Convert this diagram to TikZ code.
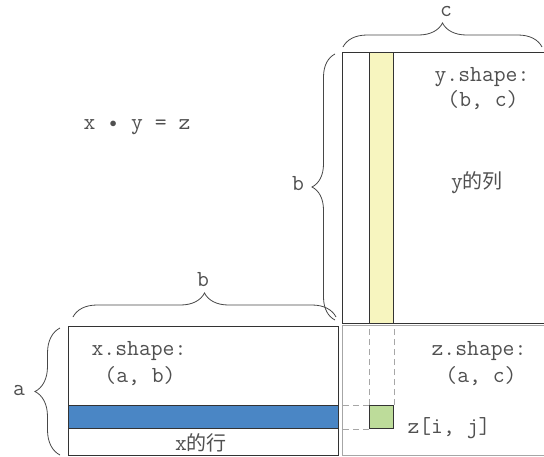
\documentclass[tikz,border=0pt]{standalone}
\usepackage{fontspec}
\newfontfamily\cjk{Noto Sans CJK SC}
\usetikzlibrary{decorations.pathreplacing}
\definecolor{txt}{HTML}{505050}
\definecolor{edge}{HTML}{333333}
\definecolor{bluefill}{HTML}{4A86C5}
\definecolor{yelfill}{HTML}{F7F5BF}
\definecolor{grnfill}{HTML}{BDDC9A}
\newcommand{\smallbul}{\makebox[12pt]{\raisebox{2.2pt}{\fontsize{15}{15}\selectfont$\bullet$}}}
\begin{document}
\begin{tikzpicture}[x=1pt,y=-1pt,
  lbl/.style={text=txt,font=\fontsize{23}{25}\selectfont\ttfamily,inner sep=0pt},
  mat/.style={draw=edge,line width=0.9pt,inner sep=0pt,anchor=north west},
  brc/.style={draw=edge!90,line width=0.8pt,decorate,decoration={brace,amplitude=#1}},
  dsh/.style={draw=gray!70,line width=0.7pt,dash pattern=on 6pt off 4pt}]
\useasboundingbox (0,0) rectangle (544,456);
% matrices
\node[mat,draw=gray!70,line width=0.8pt,minimum width=202pt,minimum height=130pt] (zbox) at (342,325) {};
\node[mat,minimum width=202pt,minimum height=271pt] (ybox) at (342,52) {};
\node[mat,fill=yelfill,minimum width=24pt,minimum height=271pt] (ycol) at (369,52) {};
\node[mat,minimum width=270pt,minimum height=129pt] (xbox) at (68,326) {};
\node[mat,fill=bluefill,minimum width=270pt,minimum height=23pt] (xrow) at (68,405) {};
\node[mat,fill=grnfill,minimum width=24pt,minimum height=23pt] (zij) at (369,405) {};
% dashed guides
\draw[dsh] (zij.north west) -- (zij.north west |- zbox.north);
\draw[dsh] (zij.north east) -- (zij.north east |- zbox.north);
\draw[dsh] (zij.north west) -- (zij.north west -| zbox.west);
\draw[dsh] (zij.south west) -- (zij.south west -| zbox.west);
% braces
\coordinate (ca) at (343,47); \coordinate (cb) at (542,47);
\draw[brc=24pt] (ca) -- (cb);
\coordinate (vb1) at (335,320); \coordinate (vb2) at (335,54);
\draw[brc=23pt] (vb1) -- (vb2);
\coordinate (hb1) at (73,317); \coordinate (hb2) at (336,317);
\draw[brc=24pt] (hb1) -- (hb2);
\coordinate (ab1) at (60,455); \coordinate (ab2) at (60,328);
\draw[brc=25pt] (ab1) -- (ab2);
% labels
\node[lbl] (lc) at (446,12) {c};
\node[lbl] (lbv) at (298,184) {b};
\node[lbl] (lbh) at (203,280) {b};
\node[lbl] (la) at (19,391) {a};
\node[lbl] (eq) at (137,127) {x \smallbul{} y = z};
\node[lbl] (ys1) at (482,77) {y.shape:};
\node[lbl] (ys2) at (483,100) {(b, c)};
\node[lbl] (ycl) at (477,183) {y{\cjk\fontsize{20}{22}\selectfont 的列}};
\node[lbl] (xs1) at (139,351) {x.shape:};
\node[lbl] (xs2) at (140,376) {(a, b)};
\node[lbl] (zs1) at (479,351) {z.shape:};
\node[lbl] (zs2) at (481,376) {(a, c)};
\node[lbl] (zl) at (449,428) {z[i, j]};
\node[lbl] (xrl) at (201,443) {x{\cjk\fontsize{20}{22}\selectfont 的行}};
\end{tikzpicture}
\end{document}
